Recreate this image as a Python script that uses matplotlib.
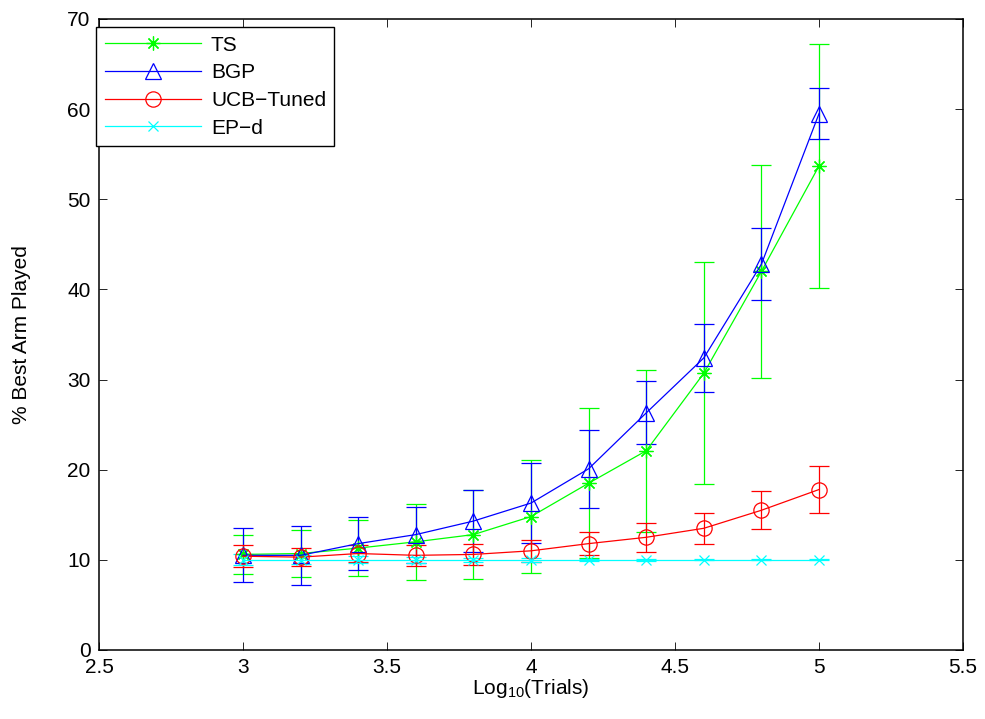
import numpy as np
import matplotlib.pyplot as plt
from matplotlib.lines import Line2D

plt.rcParams['font.family'] = ['Liberation Sans', 'DejaVu Sans']
plt.rcParams['mathtext.fontset'] = 'custom'
plt.rcParams['mathtext.rm'] = 'Liberation Sans'

log_trials = [3.0, 3.2, 3.4, 3.6, 3.8, 4.0, 4.2, 4.4, 4.6, 4.8, 5.0]

ts_mean = [10.6, 10.7, 11.3, 12.0, 12.8, 14.8, 18.5, 22.1, 30.7, 42.0, 53.7]
ts_err = [2.2, 2.6, 3.1, 4.2, 4.9, 6.3, 8.3, 9.0, 12.3, 11.8, 13.5]

bgp_mean = [10.5, 10.5, 11.8, 12.8, 14.3, 16.3, 20.1, 26.3, 32.4, 42.8, 59.5]
bgp_err = [3.0, 3.3, 2.9, 3.1, 3.4, 4.4, 4.3, 3.5, 3.8, 4.0, 2.8]

ucb_mean = [10.4, 10.3, 10.7, 10.5, 10.6, 11.0, 11.8, 12.5, 13.5, 15.5, 17.8]
ucb_err = [1.2, 1.0, 0.9, 1.2, 1.2, 1.2, 1.3, 1.6, 1.7, 2.1, 2.6]

ep_mean = [10.0, 10.0, 10.0, 10.0, 10.0, 10.0, 10.0, 10.0, 10.0, 10.0, 10.0]
ep_err = [0.6, 0.5, 0.4, 0.3, 0.25, 0.2, 0.1, 0.1, 0.05, 0.05, 0.05]

names = ['TS', 'BGP', 'UCB\u2212Tuned', 'EP\u2212d']
colors = ['#00ff00', '#0000ff', '#ff0000', '#00ffff']
markers = [(8, 2, 0), '^', 'o', 'x']
msizes = [10, 11, 11, 7]

fig = plt.figure(figsize=(9.85, 7.19), dpi=100)
ax = fig.add_axes([0.1005, 0.096, 0.8772, 0.8776])

means = [ts_mean, bgp_mean, ucb_mean, ep_mean]
errs = [ts_err, bgp_err, ucb_err, ep_err]
handles = []
for m, e, c, mk, ms, nm in zip(means, errs, colors, markers, msizes, names):
    ax.errorbar(log_trials, m, yerr=e, color=c, lw=0.9, elinewidth=0.9,
                capsize=7, capthick=0.9, marker=mk, ms=ms, mfc='none', mew=0.9)
    handles.append(Line2D([], [], color=c, lw=0.9, marker=mk, ms=ms, mfc='none',
                          mew=0.9, label=nm))

ax.set_xlim(2.5, 5.5)
ax.set_ylim(0, 70)
ax.set_xticks(np.arange(2.5, 5.51, 0.5))
ax.set_xticklabels(['2.5', '3', '3.5', '4', '4.5', '5', '5.5'])
ax.set_yticks(np.arange(0, 71, 10))
ax.tick_params(direction='in', top=True, right=True, labelsize=15, length=6,
               width=0.6, pad=6)
for s in ax.spines.values():
    s.set_linewidth(1.1)
ax.set_xlabel('Log$_{10}$(Trials)', fontsize=15, labelpad=0)
ax.set_ylabel('% Best Arm Played', fontsize=15, labelpad=26)

leg = ax.legend(handles=handles, loc='upper left', bbox_to_anchor=(-0.003, 0.987),
                borderaxespad=0, fontsize=15, fancybox=False,
                framealpha=1, edgecolor='black', handlelength=4.6,
                labelspacing=0.42, handletextpad=0.5, borderpad=0.4)
leg.get_frame().set_linewidth(1.0)

fig.savefig('out.png', dpi=100)
